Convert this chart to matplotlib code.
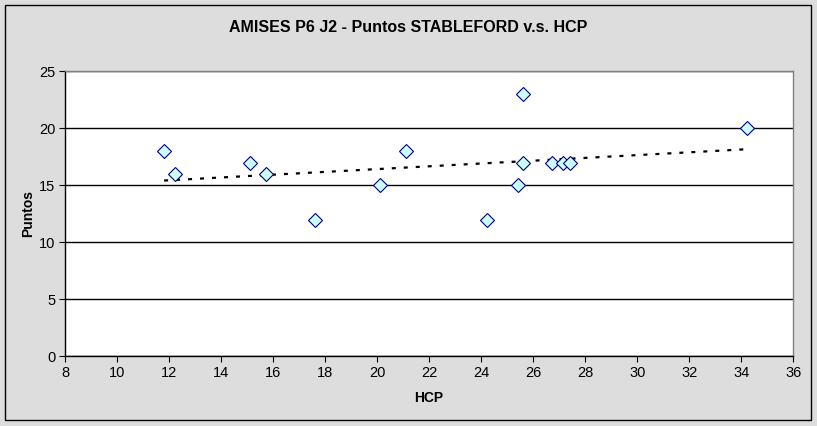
import numpy as np
import matplotlib
matplotlib.use("Agg")
import matplotlib.pyplot as plt
from matplotlib.patches import Rectangle

hcp = [11.8, 12.2, 15.1, 15.7, 17.6, 20.1, 21.1, 24.2, 25.4, 25.6, 25.6, 26.7, 27.15, 27.4, 34.2]
puntos = [18, 16, 17, 16, 12, 15, 18, 12, 15, 23, 17, 17, 17, 17, 20]
x_ticks = list(range(8, 37, 2))
y_ticks = [0, 5, 10, 15, 20, 25]
title = "AMISES P6 J2 - Puntos STABLEFORD v.s. HCP"
xlabel = "HCP"
ylabel = "Puntos"

tick_font = ['Liberation Sans Narrow', 'Liberation Sans', 'DejaVu Sans']
bold_font = ['Liberation Sans', 'DejaVu Sans']
bg = '#DDDDDD'

fig = plt.figure(figsize=(8.17, 4.26), dpi=100)
fig.patch.set_facecolor(bg)
fig.patches.append(Rectangle((5/817, 6/426), 806/817, 415/426, transform=fig.transFigure,
                             fill=False, edgecolor='black', linewidth=1.0, zorder=10))

ax = fig.add_axes([65.3/817, 69.7/426, 728/817, 285/426])
ax.set_facecolor('white')
ax.set_xlim(8, 36)
ax.set_ylim(0, 25)
ax.set_xticks(x_ticks)
ax.set_yticks(y_ticks)
ax.yaxis.grid(True, color='black', linewidth=1.0)
ax.set_axisbelow(True)

for s in ['top', 'right']:
    ax.spines[s].set_color('#808080')
    ax.spines[s].set_linewidth(1.0)
for s in ['left', 'bottom']:
    ax.spines[s].set_color('black')
    ax.spines[s].set_linewidth(1.0)

ax.tick_params(axis='both', direction='out', length=4, width=0.8, color='black', pad=3,
               labelsize=10.5)
for lab in ax.get_xticklabels() + ax.get_yticklabels():
    lab.set_family(tick_font)

# trend line (linear fit)
coef = np.polyfit(hcp, puntos, 1)
xs = np.array([min(hcp), max(hcp)])
ax.plot(xs, np.polyval(coef, xs), color='black', linewidth=1.6,
        linestyle=(0, (1.8, 3.6)), zorder=3)

ax.plot(hcp, puntos, linestyle='none', marker='D', markersize=7.4,
        markerfacecolor='#CCFFFF', markeredgecolor='#000080', markeredgewidth=0.8, zorder=4,
        clip_on=False)

fig.text(408/817, (426-27)/426, title, ha='center', va='center', fontsize=11.5,
         fontweight='bold', family=bold_font)
fig.text(429/817, (426-398)/426, xlabel, ha='center', va='center', fontsize=10,
         fontweight='bold', family=bold_font)
fig.text(28/817, (426-213.7)/426, ylabel, ha='center', va='center', fontsize=10,
         fontweight='bold', family=bold_font, rotation=90)

fig.savefig('out.png', dpi=100, facecolor=bg)
